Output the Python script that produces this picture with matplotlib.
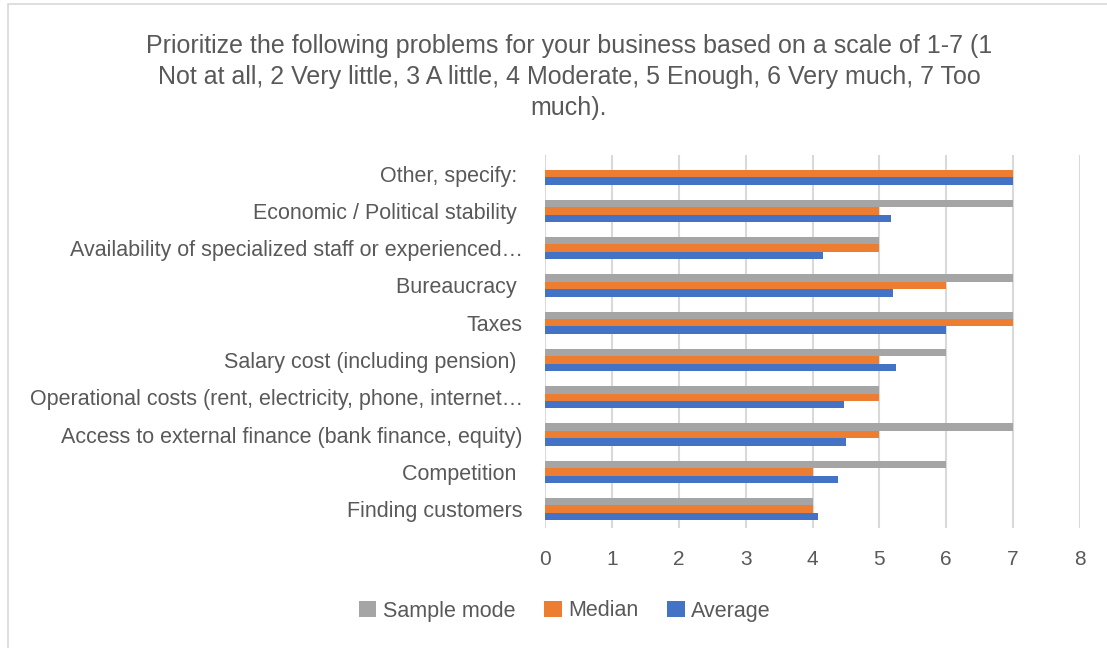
import numpy as np
import matplotlib.pyplot as plt
from matplotlib.patches import Rectangle

plt.rcParams["font.family"] = ["Liberation Sans", "DejaVu Sans"]

categories = [
    "Finding customers",
    "Competition ",
    "Access to external finance (bank finance, equity)",
    "Operational costs (rent, electricity, phone, internet\u2026",
    "Salary cost (including pension) ",
    "Taxes",
    "Bureaucracy ",
    "Availability of specialized staff or experienced\u2026",
    "Economic / Political stability ",
    "Other, specify: ",
]
sample_mode = [4, 6, 7, 5, 6, 7, 7, 5, 7, 0]
median = [4, 4, 5, 5, 5, 7, 6, 5, 5, 7]
average = [4.08, 4.38, 4.50, 4.47, 5.25, 6.0, 5.21, 4.15, 5.18, 7.0]

title = ("Prioritize the following problems for your business based on a scale of 1-7 (1\n"
         "Not at all, 2 Very little, 3 A little, 4 Moderate, 5 Enough, 6 Very much, 7 Too\n"
         "much).")

grey = "#a5a5a5"
orange = "#ed7d31"
blue = "#4472c4"
text_col = "#595959"

fig = plt.figure(figsize=(11.07, 6.48), dpi=100)
ax = fig.add_axes([545 / 1107, 1 - 527.7 / 648, 535 / 1107, 372.7 / 648])

y = np.arange(len(categories))
h = 0.2
ax.barh(y + h, sample_mode, height=h, color=grey, label="Sample mode")
ax.barh(y, median, height=h, color=orange, label="Median")
ax.barh(y - h, average, height=h, color=blue, label="Average")

ax.set_xlim(0, 8)
ax.set_ylim(-0.5, len(categories) - 0.5)
ax.set_xticks(range(9))
ax.set_yticks(y)
ax.set_yticklabels(categories)
ax.grid(axis="x", color="#d9d9d9", linewidth=1.5)
ax.set_axisbelow(True)
for s in ax.spines.values():
    s.set_visible(False)
ax.tick_params(axis="y", length=0, labelsize=15.5, labelcolor=text_col, pad=16)
ax.tick_params(axis="x", length=0, labelsize=15, labelcolor=text_col, pad=16)

fig.text(0.514, 1 - 77 / 648, title, ha="center", va="center", fontsize=18,
         color=text_col, linespacing=1.37)

handles, labels = ax.get_legend_handles_labels()
fig.legend(handles, labels, loc="center", bbox_to_anchor=(565 / 1107, 1 - 611 / 648),
           ncol=3, frameon=False, fontsize=15.5, labelcolor=text_col,
           handlelength=0.8, handleheight=0.8, handletextpad=0.3, columnspacing=1.35)

fig.add_artist(Rectangle((8 / 1107, -0.1), 1.2, 1.1 - 4 / 648, transform=fig.transFigure,
                         fill=False, edgecolor="#d9d9d9", linewidth=1.2))

fig.savefig("out.png", dpi=100)
